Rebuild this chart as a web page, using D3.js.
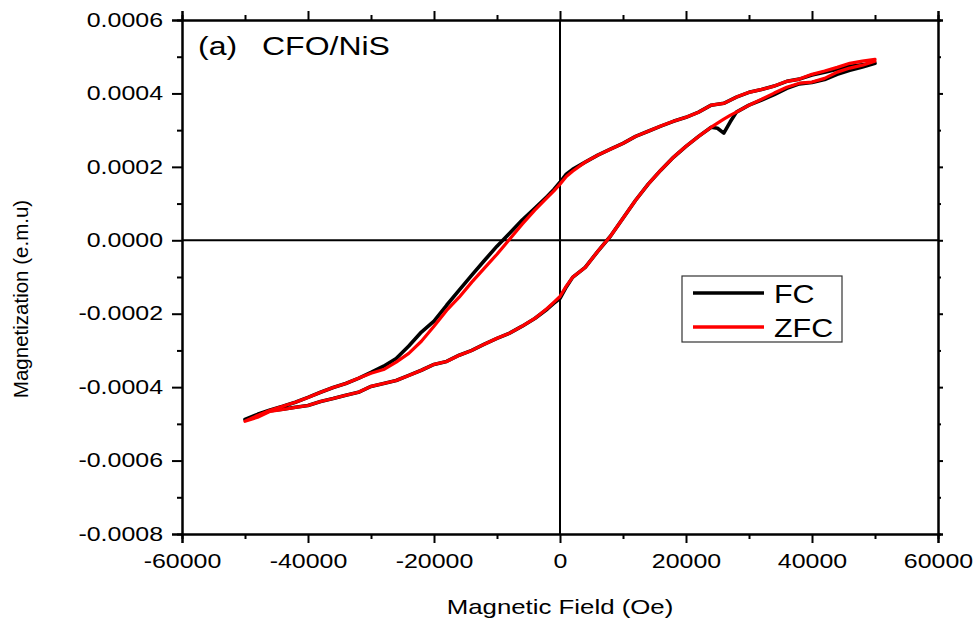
<!DOCTYPE html>
<html>
<head>
<meta charset="utf-8">
<script src="https://cdn.jsdelivr.net/npm/d3@7"></script>
<style>
  html, body { margin: 0; padding: 0; background: #fff; }
  svg { display: block; font-family: "Liberation Sans", Arial, sans-serif; }
</style>
</head>
<body>
<svg id="chart" width="977" height="623"></svg>
<script>
// Hysteresis loop of CFO/NiS, field-cooled (FC) and zero-field-cooled (ZFC)
// Field values in Oe; magnetization in e.m.u.

// Descending sweep (+50 kOe -> -50 kOe)
const fieldDown = [50000, 48000, 46000, 44000, 42000, 40000, 38000, 36000, 34000, 32000,
  30000, 28000, 26000, 24000, 22000, 20000, 18000, 16000, 14000, 12000,
  10000, 8000, 6000, 4000, 2000, 1000, 0, -1000, -2000, -4000,
  -6000, -8000, -10000, -12000, -14000, -16000, -18000, -20000, -22000, -24000,
  -26000, -28000, -30000, -32000, -34000, -36000, -38000, -40000, -42000, -44000,
  -46000, -48000, -50000];
const zfcDown = [4.93e-4, 4.88e-4, 4.82e-4, 4.71e-4, 4.61e-4, 4.52e-4, 4.39e-4, 4.33e-4, 4.20e-4, 4.11e-4,
  4.03e-4, 3.90e-4, 3.73e-4, 3.68e-4, 3.49e-4, 3.35e-4, 3.24e-4, 3.11e-4, 2.97e-4, 2.83e-4,
  2.64e-4, 2.48e-4, 2.32e-4, 2.13e-4, 1.88e-4, 1.74e-4, 1.53e-4, 1.34e-4, 1.17e-4, 0.82e-4,
  0.44e-4, 0.03e-4, -0.38e-4, -0.76e-4, -1.14e-4, -1.55e-4, -1.91e-4, -2.34e-4, -2.75e-4, -3.08e-4,
  -3.32e-4, -3.52e-4, -3.62e-4, -3.76e-4, -3.90e-4, -4.01e-4, -4.14e-4, -4.28e-4, -4.41e-4, -4.52e-4,
  -4.63e-4, -4.77e-4, -4.93e-4];
const fcDown = [4.82e-4, 4.78e-4, 4.74e-4, 4.66e-4, 4.58e-4, 4.50e-4, 4.39e-4, 4.33e-4, 4.20e-4, 4.11e-4,
  4.03e-4, 3.90e-4, 3.73e-4, 3.68e-4, 3.49e-4, 3.35e-4, 3.24e-4, 3.11e-4, 2.97e-4, 2.83e-4,
  2.64e-4, 2.48e-4, 2.32e-4, 2.13e-4, 1.93e-4, 1.80e-4, 1.58e-4, 1.38e-4, 1.20e-4, 0.87e-4,
  0.55e-4, 0.19e-4, -0.16e-4, -0.55e-4, -0.95e-4, -1.36e-4, -1.77e-4, -2.20e-4, -2.50e-4, -2.88e-4,
  -3.22e-4, -3.43e-4, -3.60e-4, -3.76e-4, -3.90e-4, -4.01e-4, -4.14e-4, -4.28e-4, -4.41e-4, -4.52e-4,
  -4.62e-4, -4.74e-4, -4.88e-4];

// Ascending sweep (-50 kOe -> +50 kOe)
const fieldUp = [-50000, -48000, -46000, -44000, -42000, -40000, -38000, -36000, -34000, -32000,
  -30000, -28000, -26000, -24000, -22000, -20000, -18000, -16000, -14000, -12000,
  -10000, -8000, -6000, -4000, -2000, -1000, 0, 1000, 2000, 4000,
  6000, 8000, 10000, 12000, 14000, 16000, 18000, 20000, 22000, 24000,
  25000, 26000, 27000, 28000, 30000, 32000, 34000, 36000, 38000, 40000,
  42000, 44000, 46000, 48000, 50000];
const zfcUp = [-4.93e-4, -4.82e-4, -4.66e-4, -4.61e-4, -4.55e-4, -4.50e-4, -4.39e-4, -4.31e-4, -4.22e-4, -4.14e-4,
  -3.98e-4, -3.90e-4, -3.82e-4, -3.68e-4, -3.54e-4, -3.38e-4, -3.30e-4, -3.13e-4, -3.00e-4, -2.83e-4,
  -2.67e-4, -2.53e-4, -2.34e-4, -2.13e-4, -1.85e-4, -1.69e-4, -1.53e-4, -1.25e-4, -1.01e-4, -0.74e-4,
  -0.30e-4, 0.11e-4, 0.60e-4, 1.09e-4, 1.53e-4, 1.91e-4, 2.26e-4, 2.56e-4, 2.83e-4, 3.08e-4,
  3.19e-4, 3.30e-4, 3.40e-4, 3.49e-4, 3.68e-4, 3.84e-4, 4.01e-4, 4.17e-4, 4.28e-4, 4.31e-4,
  4.41e-4, 4.58e-4, 4.69e-4, 4.77e-4, 4.88e-4];
const fcUp = [-4.88e-4, -4.78e-4, -4.64e-4, -4.60e-4, -4.55e-4, -4.50e-4, -4.39e-4, -4.31e-4, -4.22e-4, -4.14e-4,
  -3.98e-4, -3.90e-4, -3.82e-4, -3.68e-4, -3.54e-4, -3.38e-4, -3.30e-4, -3.13e-4, -3.00e-4, -2.83e-4,
  -2.67e-4, -2.53e-4, -2.34e-4, -2.13e-4, -1.87e-4, -1.72e-4, -1.58e-4, -1.27e-4, -1.01e-4, -0.74e-4,
  -0.30e-4, 0.11e-4, 0.60e-4, 1.09e-4, 1.53e-4, 1.91e-4, 2.26e-4, 2.56e-4, 2.83e-4, 3.08e-4,
  3.05e-4, 2.92e-4, 3.22e-4, 3.49e-4, 3.68e-4, 3.82e-4, 3.97e-4, 4.14e-4, 4.26e-4, 4.30e-4,
  4.38e-4, 4.52e-4, 4.63e-4, 4.72e-4, 4.82e-4];

// Axis ticks
const xTicks = [-60000, -40000, -20000, 0, 20000, 40000, 60000];
const xMinorTicks = [-50000, -30000, -10000, 10000, 30000, 50000];
const yTicks = [-0.0008, -0.0006, -0.0004, -0.0002, 0, 0.0002, 0.0004, 0.0006];
const yMinorTicks = [-0.0007, -0.0005, -0.0003, -0.0001, 0.0001, 0.0003, 0.0005];

const seriesNames = ["FC", "ZFC"];
const seriesColors = ["#000000", "#ff0000"];

const svg = d3.select("#chart");
const plot = { left: 182, right: 938, top: 20, bottom: 534 };
const STRETCH = 1.28;

const x = d3.scaleLinear().domain([-60000, 60000]).range([plot.left, plot.right]);
const y = d3.scaleLinear().domain([-0.0008, 0.0006]).range([plot.bottom, plot.top]);

// Loop paths: descending branch followed by ascending branch
function loop(fd, md, fu, mu) {
  const pts = fd.map((h, i) => [h, md[i]]);
  return pts.concat(fu.map((h, i) => [h, mu[i]]));
}
const series = [
  { name: "FC", color: seriesColors[0], width: 3.6, pts: loop(fieldDown, fcDown, fieldUp, fcUp) },
  { name: "ZFC", color: seriesColors[1], width: 3.2, pts: loop(fieldDown, zfcDown, fieldUp, zfcUp) }
];

const line = d3.line().x(d => x(d[0])).y(d => y(d[1]));

// Zero reference lines
svg.append("line")
  .attr("x1", plot.left).attr("x2", plot.right)
  .attr("y1", y(0)).attr("y2", y(0))
  .attr("stroke", "#000").attr("stroke-width", 2);
svg.append("line")
  .attr("x1", x(0)).attr("x2", x(0))
  .attr("y1", plot.top).attr("y2", plot.bottom)
  .attr("stroke", "#000").attr("stroke-width", 2);

// Data
svg.append("g").selectAll("path").data(series).join("path")
  .attr("d", d => line(d.pts))
  .attr("fill", "none")
  .attr("stroke", d => d.color)
  .attr("stroke-width", d => d.width)
  .attr("stroke-linejoin", "round")
  .attr("stroke-linecap", "round");

// Axes
function styleAxis(g) {
  g.select(".domain").attr("stroke", "#000").attr("stroke-width", 2);
  g.selectAll(".tick line").attr("stroke", "#000").attr("stroke-width", 2);
  g.selectAll("text").attr("fill", "#000").attr("font-size", "19.5px")
    .attr("font-family", "'Liberation Sans', Arial, sans-serif");
}
function stretchText(sel) {
  sel.each(function () {
    const t = d3.select(this);
    const tx = +t.attr("x") || 0;
    t.attr("transform", `translate(${tx},0) scale(${STRETCH},1) translate(${-tx},0)`);
  });
}

// Minor ticks (drawn first)
svg.append("g").attr("transform", `translate(0,${plot.bottom})`)
  .call(d3.axisBottom(x).tickValues(xMinorTicks).tickSize(5).tickFormat(""))
  .call(styleAxis);
svg.append("g").attr("transform", `translate(0,${plot.top})`)
  .call(d3.axisTop(x).tickValues(xMinorTicks).tickSize(5).tickFormat(""))
  .call(styleAxis);
svg.append("g").attr("transform", `translate(${plot.left},0)`)
  .call(d3.axisLeft(y).tickValues(yMinorTicks).tickSize(5).tickFormat(""))
  .call(styleAxis);
svg.append("g").attr("transform", `translate(${plot.right},0)`)
  .call(d3.axisRight(y).tickValues(yMinorTicks).tickSize(3).tickFormat(""))
  .call(styleAxis);

// Major ticks with labels
const gx = svg.append("g").attr("transform", `translate(0,${plot.bottom})`)
  .call(d3.axisBottom(x).tickValues(xTicks).tickSize(9).tickPadding(11).tickFormat(d => String(d)))
  .call(styleAxis);
stretchText(gx.selectAll("text"));

svg.append("g").attr("transform", `translate(0,${plot.top})`)
  .call(d3.axisTop(x).tickValues(xTicks).tickSize(9).tickFormat(""))
  .call(styleAxis);

const gy = svg.append("g").attr("transform", `translate(${plot.left},0)`)
  .call(d3.axisLeft(y).tickValues(yTicks).tickSize(10).tickPadding(9).tickFormat(d => d.toFixed(4)))
  .call(styleAxis);
stretchText(gy.selectAll("text"));

svg.append("g").attr("transform", `translate(${plot.right},0)`)
  .call(d3.axisRight(y).tickValues(yTicks).tickSize(5).tickFormat(""))
  .call(styleAxis);

// Axis titles
svg.append("text")
  .attr("transform", `translate(${(plot.left + plot.right) / 2},614) scale(1.26,1)`)
  .attr("text-anchor", "middle")
  .attr("font-size", "20.5px")
  .attr("fill", "#000")
  .text("Magnetic Field (Oe)");

svg.append("text")
  .attr("transform", `translate(28,299) rotate(-90)`)
  .attr("text-anchor", "middle")
  .attr("font-size", "20.5px")
  .attr("fill", "#000")
  .text("Magnetization (e.m.u)");

// Panel label
svg.append("text")
  .attr("transform", `translate(198,55) scale(1.28,1)`)
  .attr("font-size", "25px").attr("fill", "#000")
  .text("(a)");
svg.append("text")
  .attr("transform", `translate(262,55) scale(1.28,1)`)
  .attr("font-size", "25px").attr("fill", "#000")
  .text("CFO/NiS");

// Legend
const legend = svg.append("g");
legend.append("rect")
  .attr("x", 682).attr("y", 276).attr("width", 160).attr("height", 66)
  .attr("fill", "#fff").attr("stroke", "#333").attr("stroke-width", 1.2);
const rows = legend.selectAll("g.row").data(seriesNames).join("g")
  .attr("class", "row")
  .attr("transform", (d, i) => `translate(0,${293 + i * 34})`);
rows.append("line")
  .attr("x1", 693).attr("x2", 764).attr("y1", 0).attr("y2", 0)
  .attr("stroke", (d, i) => seriesColors[i]).attr("stroke-width", 3.5);
rows.append("text")
  .attr("transform", `translate(774,10) scale(1.22,1)`)
  .attr("font-size", "25px").attr("fill", "#000")
  .text(d => d);
</script>
</body>
</html>
